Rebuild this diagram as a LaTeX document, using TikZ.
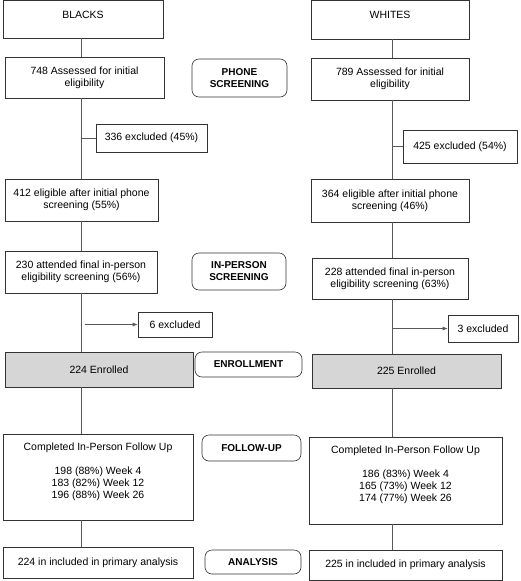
\documentclass[tikz,border=0pt]{standalone}
\usepackage{fontspec}
\setmainfont{Liberation Sans}
\usetikzlibrary{arrows.meta, positioning, calc}

\begin{document}
\begin{tikzpicture}[x=1pt, y=-1pt, >={Latex[length=5pt, width=4pt]},
    font=\fontsize{10.5}{12}\selectfont,
    box/.style={draw=black!80, line width=0.6pt, align=center, inner sep=2pt},
    header/.style={box, text depth=9pt},
    followbox/.style={box, text depth=13pt},
    enrolbox/.style={box, fill=black!16},
    stage/.style={draw=black!80, line width=0.6pt, rounded corners=7pt, align=center, font=\fontsize{10}{12}\selectfont\bfseries},
    link/.style={draw=black!65, line width=0.6pt}]

    % Define variables/coordinates
    \def\StemL{81.5}
    \def\StemR{392}

    \useasboundingbox (0,0) rectangle (520,581);

    % Left column (Blacks)
    \node[header, minimum width=160, minimum height=38] (blacks) at (83,19) {BLACKS};
    \node[box, minimum width=159, minimum height=41] (assL) at (84.5,77.5) {748 Assessed for initial\\eligibility};
    \node[box, minimum width=111, minimum height=28] (exPhoneL) at (151.5,138) {336 excluded (45\%)};
    \node[box, minimum width=153, minimum height=42] (eligL) at (81.5,200) {412 eligible after initial phone\\screening (55\%)};
    \node[box, minimum width=152, minimum height=42] (attL) at (81,272) {230 attended final in-person\\eligibility screening (56\%)};
    \node[box, minimum width=74, minimum height=25] (exVisitL) at (175,324.5) {6 excluded};
    \node[enrolbox, minimum width=188, minimum height=35] (enrL) at (99,369.5) {224 Enrolled};
    \node[followbox, minimum width=190, minimum height=86] (fuL) at (98,477) {Completed In-Person Follow Up\\[12pt]198 (88\%) Week 4\\183 (82\%) Week 12\\196 (88\%) Week 26};
    \node[box, minimum width=190, minimum height=31] (anL) at (98,562.5) {224 in included in primary analysis};

    % Stage labels
    \node[stage, minimum width=95, minimum height=38] (phone) at (239.5,78) {PHONE\\SCREENING};
    \node[stage, minimum width=94, minimum height=37] (visit) at (239,271.5) {IN-PERSON\\SCREENING};
    \node[stage, minimum width=107, minimum height=25] (enrol) at (248.5,364.5) {ENROLLMENT};
    \node[stage, minimum width=99, minimum height=26] (follow) at (251.5,448) {FOLLOW-UP};
    \node[stage, minimum width=96, minimum height=24] (analysis) at (253,562) {ANALYSIS};

    % Right column (Whites)
    \node[header, minimum width=158, minimum height=39] (whites) at (390,19.5) {WHITES};
    \node[box, minimum width=158, minimum height=42] (assR) at (390,79) {789 Assessed for initial\\eligibility};
    \node[box, minimum width=114, minimum height=33] (exPhoneR) at (460,146.5) {425 excluded (54\%)};
    \node[box, minimum width=158, minimum height=43] (eligR) at (390,200.5) {364 eligible after initial phone\\screening (46\%)};
    \node[box, minimum width=156, minimum height=41] (attR) at (390,278.5) {228 attended final in-person\\eligibility screening (63\%)};
    \node[box, minimum width=70, minimum height=27] (exVisitR) at (483,328.5) {3 excluded};
    \node[enrolbox, minimum width=189, minimum height=34] (enrR) at (406.5,371) {225 Enrolled};
    \node[followbox, minimum width=193, minimum height=87] (fuR) at (405.5,480.5) {Completed In-Person Follow Up\\[12pt]186 (83\%) Week 4\\165 (73\%) Week 12\\174 (77\%) Week 26};
    \node[box, minimum width=193, minimum height=30] (anR) at (405.5,565) {225 in included in primary analysis};

    % Draw vertical stems
    \coordinate (stemL) at (\StemL,0);
    \coordinate (stemR) at (\StemR,0);
    \foreach \a/\b in {blacks/assL, assL/eligL, eligL/attL, attL/enrL, enrL/fuL, fuL/anL}
        \draw[link] (stemL |- \a.south) -- (stemL |- \b.north);
    \foreach \a/\b in {whites/assR, assR/eligR, eligR/attR, attR/enrR, enrR/fuR, fuR/anR}
        \draw[link] (stemR |- \a.south) -- (stemR |- \b.north);

    % Exclusions
    \draw[link] (stemL |- exPhoneL.west) -- (exPhoneL.west);
    \draw[link] (stemR |- exPhoneR.west) -- (exPhoneR.west);
    \draw[link, ->] ($(stemL |- exVisitL.west)+(3,0)$) -- (exVisitL.west);
    \draw[link, ->] ($(stemR |- exVisitR.west)+(1,0)$) -- (exVisitR.west);

\end{tikzpicture}
\end{document}
